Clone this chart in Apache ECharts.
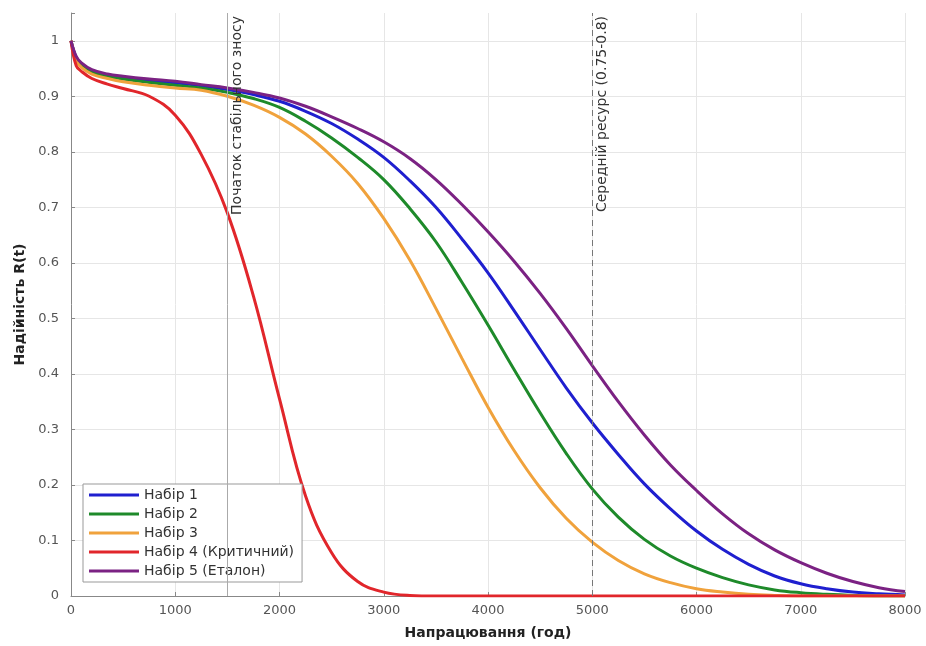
<!DOCTYPE html>
<html>
<head>
    <meta charset="utf-8">
    <title>Надійність R(t)</title>
    <script src="https://cdn.jsdelivr.net/npm/echarts@6/dist/echarts.min.js"></script>
    <style>
        html, body { margin: 0; padding: 0; background: #fff; }
        #chart { width: 926px; height: 646px; }
    </style>
</head>
<body>
<div id="chart"></div>
<script>
    // напрацювання, год
    var hours = [0, 50, 100, 200, 350, 500, 750, 1000, 1250, 1500, 1750, 2000, 2250, 2500, 2750, 3000,
        3250, 3500, 3750, 4000, 4250, 4500, 4750, 5000, 5250, 5500, 5750, 6000, 6250, 6500, 6750, 7000,
        7250, 7500, 7750, 8000];

    var set1 = [1.0, 0.97, 0.958, 0.946, 0.938, 0.933, 0.928, 0.924, 0.919, 0.912, 0.903, 0.891, 0.873, 0.851, 0.823, 0.79,
        0.748, 0.70, 0.643, 0.582, 0.514, 0.444, 0.375, 0.312, 0.255, 0.202, 0.157, 0.117, 0.084, 0.057, 0.036, 0.022,
        0.013, 0.007, 0.004, 0.002];
    var set2 = [1.0, 0.968, 0.955, 0.943, 0.936, 0.931, 0.925, 0.92, 0.915, 0.907, 0.896, 0.88, 0.855, 0.825, 0.79, 0.75,
        0.698, 0.638, 0.565, 0.488, 0.408, 0.33, 0.257, 0.193, 0.142, 0.102, 0.072, 0.05, 0.033, 0.02, 0.011, 0.006,
        0.003, 0.001, 0, 0];
    var set3 = [1.0, 0.965, 0.952, 0.94, 0.932, 0.926, 0.92, 0.915, 0.911, 0.90, 0.884, 0.862, 0.832, 0.792, 0.743, 0.68,
        0.605, 0.518, 0.428, 0.34, 0.262, 0.195, 0.14, 0.097, 0.064, 0.04, 0.024, 0.013, 0.007, 0.003, 0.001, 0,
        0, 0, 0, 0];
    var set4 = [1.0, 0.955, 0.945, 0.932, 0.922, 0.914, 0.9, 0.866, 0.795, 0.69, 0.54, 0.355, 0.18, 0.078, 0.026, 0.007,
        0.001, 0, 0, 0, 0, 0, 0, 0, 0, 0, 0, 0, 0, 0, 0, 0,
        0, 0, 0, 0];
    var set5 = [1.0, 0.972, 0.96, 0.948, 0.94, 0.936, 0.931, 0.927, 0.921, 0.915, 0.907, 0.897, 0.882, 0.863, 0.842, 0.818,
        0.788, 0.75, 0.705, 0.656, 0.603, 0.545, 0.482, 0.415, 0.35, 0.29, 0.236, 0.19, 0.148, 0.112, 0.083, 0.06,
        0.041, 0.026, 0.015, 0.008];

    var names = ['Набір 1', 'Набір 2', 'Набір 3', 'Набір 4 (Критичний)', 'Набір 5 (Еталон)'];
    var colors = ['#1f1fcf', '#1e8a2a', '#f0a23c', '#e1262b', '#7b2283'];
    var values = [set1, set2, set3, set4, set5];

    var font = 'DejaVu Sans, Arial, sans-serif';

    var myChart = echarts.init(document.getElementById('chart'), null, {renderer: 'canvas'});

    var series = values.map(function (vals, i) {
        var s = {
            name: names[i],
            type: 'line',
            smooth: 0.4,
            symbol: 'none',
            lineStyle: {width: 3, color: colors[i]},
            itemStyle: {color: colors[i]},
            data: hours.map(function (h, k) { return [h, vals[k]]; }),
            z: 3
        };
        if (i === 0) {
            s.markLine = {
                silent: true,
                symbol: 'none',
                animation: false,
                label: {
                    show: true,
                    position: 'insideEndBottom',
                    color: '#333',
                    fontSize: 14,
                    fontFamily: font,
                    distance: 3
                },
                data: [
                    {
                        xAxis: 1500,
                        lineStyle: {color: '#aaaaaa', width: 1, type: 'solid'},
                        label: {formatter: 'Початок стабільного зносу'}
                    },
                    {
                        xAxis: 5000,
                        lineStyle: {color: '#777777', width: 1, type: [6, 4]},
                        label: {formatter: 'Середній ресурс (0.75-0.8)'}
                    }
                ]
            };
        }
        return s;
    });

    var option = {
        animation: false,
        textStyle: {fontFamily: font},
        grid: {left: 71, right: 21, top: 13, bottom: 50},
        legend: {
            orient: 'vertical',
            left: 83,
            top: 484,
            data: names,
            icon: 'rect',
            itemWidth: 50,
            itemHeight: 3,
            itemGap: 5,
            padding: [4, 8, 4, 6],
            backgroundColor: '#ffffff',
            borderColor: '#999999',
            borderWidth: 1,
            borderRadius: 0,
            textStyle: {fontSize: 14, color: '#333', fontFamily: font}
        },
        xAxis: {
            type: 'value',
            min: 0,
            max: 8000,
            interval: 1000,
            name: 'Напрацювання (год)',
            nameLocation: 'middle',
            nameGap: 30,
            nameTextStyle: {fontSize: 14, fontWeight: 'bold', color: '#222', fontFamily: font},
            axisLine: {show: true, lineStyle: {color: '#888'}},
            axisTick: {show: true, inside: true, length: 4, lineStyle: {color: '#888'}},
            axisLabel: {
                fontSize: 13, color: '#555', margin: 8,
                formatter: function (v) { return String(v); }
            },
            splitLine: {show: true, lineStyle: {color: '#e6e6e6', width: 1}}
        },
        yAxis: {
            type: 'value',
            min: 0,
            max: 1.05,
            interval: 0.1,
            name: 'Надійність R(t)',
            nameLocation: 'middle',
            nameGap: 35,
            nameTextStyle: {fontSize: 14, fontWeight: 'bold', color: '#222', fontFamily: font},
            axisLine: {show: true, lineStyle: {color: '#888'}},
            axisTick: {show: true, inside: true, length: 4, lineStyle: {color: '#888'}},
            axisLabel: {
                fontSize: 13, color: '#555', margin: 12,
                formatter: function (v) { return v > 1.001 ? '' : String(Math.round(v * 10) / 10); }
            },
            splitLine: {show: true, showMaxLine: false, lineStyle: {color: '#e6e6e6', width: 1}}
        },
        series: series
    };

    myChart.setOption(option);
    window.addEventListener('resize', myChart.resize);
</script>
</body>
</html>
